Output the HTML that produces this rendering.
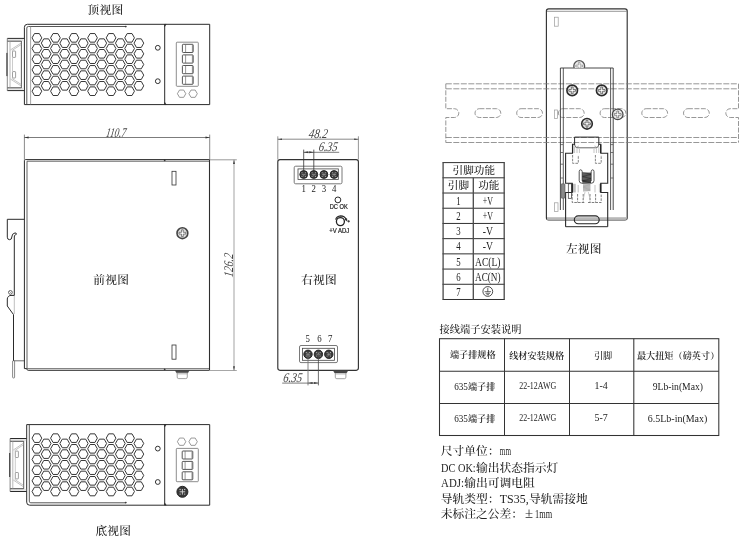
<!DOCTYPE html>
<html lang="zh-CN">
<head>
<meta charset="utf-8">
<title>尺寸图</title>
<style>
html,body{margin:0;padding:0;background:#fff;}
body{width:747px;height:540px;overflow:hidden;}
svg{display:block;will-change:transform;}
text.c{font-family:"Liberation Serif","Noto Serif CJK SC",serif;}
text.s{font-family:"Liberation Sans",sans-serif;}
</style>
</head>
<body>
<svg width="747" height="540" viewBox="0 0 747 540">
<rect x="0" y="0" width="747" height="540" fill="#fff"/>
<path d="M209.7 24.3 H27.4 Q24.4 24.3 24.4 27.3 V104.6 H209.7 Z" fill="none" stroke="#2a2a2a" stroke-width="1"/>
<path d="M125.8 26.5 H28.4 Q26.8 26.5 26.8 28.1 V104.6" fill="none" stroke="#444" stroke-width="0.9"/>
<line x1="30.6" y1="26.3" x2="30.6" y2="104.6" stroke="#808080" stroke-width="0.7"/>
<circle cx="125.8" cy="26.6" r="0.6" fill="#2a2a2a" stroke="#2a2a2a" stroke-width="0.5"/>
<line x1="164.7" y1="24.3" x2="164.7" y2="104.6" stroke="#2a2a2a" stroke-width="1"/>
<path d="M164.7 24.3 l1.6 0 l-1.6 2.4 Z" fill="#2a2a2a" stroke="#2a2a2a" stroke-width="0.3"/>
<path d="M164.7 104.6 l1.6 0 l-1.6 -2.4 Z" fill="#2a2a2a" stroke="#2a2a2a" stroke-width="0.3"/>
<path d="M32.05 37.85L34.48 33.55L39.32 33.55L41.75 37.85L39.32 42.15L34.48 42.15ZM32.05 48.52L34.48 44.22L39.32 44.22L41.75 48.52L39.32 52.82L34.48 52.82ZM32.05 59.19L34.48 54.89L39.32 54.89L41.75 59.19L39.32 63.49L34.48 63.49ZM32.05 69.86L34.48 65.56L39.32 65.56L41.75 69.86L39.32 74.16L34.48 74.16ZM32.05 80.53L34.48 76.23L39.32 76.23L41.75 80.53L39.32 84.83L34.48 84.83ZM32.05 91.2L34.48 86.9L39.32 86.9L41.75 91.2L39.32 95.5L34.48 95.5ZM41.32 43.15L43.75 38.85L48.59 38.85L51.02 43.15L48.59 47.45L43.75 47.45ZM41.32 53.82L43.75 49.52L48.59 49.52L51.02 53.82L48.59 58.12L43.75 58.12ZM41.32 64.49L43.75 60.19L48.59 60.19L51.02 64.49L48.59 68.79L43.75 68.79ZM41.32 75.16L43.75 70.86L48.59 70.86L51.02 75.16L48.59 79.46L43.75 79.46ZM41.32 85.83L43.75 81.53L48.59 81.53L51.02 85.83L48.59 90.13L43.75 90.13ZM50.59 37.85L53.02 33.55L57.86 33.55L60.29 37.85L57.86 42.15L53.02 42.15ZM50.59 48.52L53.02 44.22L57.86 44.22L60.29 48.52L57.86 52.82L53.02 52.82ZM50.59 59.19L53.02 54.89L57.86 54.89L60.29 59.19L57.86 63.49L53.02 63.49ZM50.59 69.86L53.02 65.56L57.86 65.56L60.29 69.86L57.86 74.16L53.02 74.16ZM50.59 80.53L53.02 76.23L57.86 76.23L60.29 80.53L57.86 84.83L53.02 84.83ZM50.59 91.2L53.02 86.9L57.86 86.9L60.29 91.2L57.86 95.5L53.02 95.5ZM59.86 43.15L62.28 38.85L67.13 38.85L69.56 43.15L67.13 47.45L62.28 47.45ZM59.86 53.82L62.28 49.52L67.13 49.52L69.56 53.82L67.13 58.12L62.28 58.12ZM59.86 64.49L62.28 60.19L67.13 60.19L69.56 64.49L67.13 68.79L62.28 68.79ZM59.86 75.16L62.28 70.86L67.13 70.86L69.56 75.16L67.13 79.46L62.28 79.46ZM59.86 85.83L62.28 81.53L67.13 81.53L69.56 85.83L67.13 90.13L62.28 90.13ZM69.13 37.85L71.55 33.55L76.4 33.55L78.83 37.85L76.4 42.15L71.55 42.15ZM69.13 48.52L71.55 44.22L76.4 44.22L78.83 48.52L76.4 52.82L71.55 52.82ZM69.13 59.19L71.55 54.89L76.4 54.89L78.83 59.19L76.4 63.49L71.55 63.49ZM69.13 69.86L71.55 65.56L76.4 65.56L78.83 69.86L76.4 74.16L71.55 74.16ZM69.13 80.53L71.55 76.23L76.4 76.23L78.83 80.53L76.4 84.83L71.55 84.83ZM69.13 91.2L71.55 86.9L76.4 86.9L78.83 91.2L76.4 95.5L71.55 95.5ZM78.4 43.15L80.83 38.85L85.67 38.85L88.1 43.15L85.67 47.45L80.83 47.45ZM78.4 53.82L80.83 49.52L85.67 49.52L88.1 53.82L85.67 58.12L80.83 58.12ZM78.4 64.49L80.83 60.19L85.67 60.19L88.1 64.49L85.67 68.79L80.83 68.79ZM78.4 75.16L80.83 70.86L85.67 70.86L88.1 75.16L85.67 79.46L80.83 79.46ZM78.4 85.83L80.83 81.53L85.67 81.53L88.1 85.83L85.67 90.13L80.83 90.13ZM87.67 37.85L90.09 33.55L94.94 33.55L97.37 37.85L94.94 42.15L90.09 42.15ZM87.67 48.52L90.09 44.22L94.94 44.22L97.37 48.52L94.94 52.82L90.09 52.82ZM87.67 59.19L90.09 54.89L94.94 54.89L97.37 59.19L94.94 63.49L90.09 63.49ZM87.67 69.86L90.09 65.56L94.94 65.56L97.37 69.86L94.94 74.16L90.09 74.16ZM87.67 80.53L90.09 76.23L94.94 76.23L97.37 80.53L94.94 84.83L90.09 84.83ZM87.67 91.2L90.09 86.9L94.94 86.9L97.37 91.2L94.94 95.5L90.09 95.5ZM96.94 43.15L99.36 38.85L104.21 38.85L106.64 43.15L104.21 47.45L99.36 47.45ZM96.94 53.82L99.36 49.52L104.21 49.52L106.64 53.82L104.21 58.12L99.36 58.12ZM96.94 64.49L99.36 60.19L104.21 60.19L106.64 64.49L104.21 68.79L99.36 68.79ZM96.94 75.16L99.36 70.86L104.21 70.86L106.64 75.16L104.21 79.46L99.36 79.46ZM96.94 85.83L99.36 81.53L104.21 81.53L106.64 85.83L104.21 90.13L99.36 90.13ZM106.21 37.85L108.64 33.55L113.48 33.55L115.91 37.85L113.48 42.15L108.64 42.15ZM106.21 48.52L108.64 44.22L113.48 44.22L115.91 48.52L113.48 52.82L108.64 52.82ZM106.21 59.19L108.64 54.89L113.48 54.89L115.91 59.19L113.48 63.49L108.64 63.49ZM106.21 69.86L108.64 65.56L113.48 65.56L115.91 69.86L113.48 74.16L108.64 74.16ZM106.21 80.53L108.64 76.23L113.48 76.23L115.91 80.53L113.48 84.83L108.64 84.83ZM106.21 91.2L108.64 86.9L113.48 86.9L115.91 91.2L113.48 95.5L108.64 95.5ZM115.48 43.15L117.9 38.85L122.75 38.85L125.18 43.15L122.75 47.45L117.9 47.45ZM115.48 53.82L117.9 49.52L122.75 49.52L125.18 53.82L122.75 58.12L117.9 58.12ZM115.48 64.49L117.9 60.19L122.75 60.19L125.18 64.49L122.75 68.79L117.9 68.79ZM115.48 75.16L117.9 70.86L122.75 70.86L125.18 75.16L122.75 79.46L117.9 79.46ZM115.48 85.83L117.9 81.53L122.75 81.53L125.18 85.83L122.75 90.13L117.9 90.13ZM124.75 37.85L127.17 33.55L132.03 33.55L134.45 37.85L132.03 42.15L127.17 42.15ZM124.75 48.52L127.17 44.22L132.03 44.22L134.45 48.52L132.03 52.82L127.17 52.82ZM124.75 59.19L127.17 54.89L132.03 54.89L134.45 59.19L132.03 63.49L127.17 63.49ZM124.75 69.86L127.17 65.56L132.03 65.56L134.45 69.86L132.03 74.16L127.17 74.16ZM124.75 80.53L127.17 76.23L132.03 76.23L134.45 80.53L132.03 84.83L127.17 84.83ZM124.75 91.2L127.17 86.9L132.03 86.9L134.45 91.2L132.03 95.5L127.17 95.5ZM134.02 43.15L136.44 38.85L141.3 38.85L143.72 43.15L141.3 47.45L136.44 47.45ZM134.02 53.82L136.44 49.52L141.3 49.52L143.72 53.82L141.3 58.12L136.44 58.12ZM134.02 64.49L136.44 60.19L141.3 60.19L143.72 64.49L141.3 68.79L136.44 68.79ZM134.02 75.16L136.44 70.86L141.3 70.86L143.72 75.16L141.3 79.46L136.44 79.46ZM134.02 85.83L136.44 81.53L141.3 81.53L143.72 85.83L141.3 90.13L136.44 90.13Z" fill="none" stroke="#383838" stroke-width="1" stroke-linejoin="round"/>
<circle cx="157.8" cy="47.8" r="2.4" fill="none" stroke="#333" stroke-width="1"/>
<circle cx="157.8" cy="81.2" r="2.4" fill="none" stroke="#333" stroke-width="1"/>
<rect x="176.3" y="42.2" width="22" height="44.1" fill="none" stroke="#707070" stroke-width="0.8" rx="0.8"/>
<rect x="182.4" y="44.3" width="10.8" height="8.2" fill="none" stroke="#444" stroke-width="0.9" rx="0.8"/>
<line x1="185.6" y1="44.3" x2="185.6" y2="52.5" stroke="#6a6a6a" stroke-width="0.7"/>
<line x1="192.4" y1="44.7" x2="192.4" y2="52.1" stroke="#777" stroke-width="0.8"/>
<rect x="182.4" y="54.9" width="10.8" height="8.2" fill="none" stroke="#444" stroke-width="0.9" rx="0.8"/>
<line x1="185.6" y1="54.9" x2="185.6" y2="63.1" stroke="#6a6a6a" stroke-width="0.7"/>
<line x1="192.4" y1="55.3" x2="192.4" y2="62.7" stroke="#777" stroke-width="0.8"/>
<rect x="182.4" y="65.5" width="10.8" height="8.2" fill="none" stroke="#444" stroke-width="0.9" rx="0.8"/>
<line x1="185.6" y1="65.5" x2="185.6" y2="73.7" stroke="#6a6a6a" stroke-width="0.7"/>
<line x1="192.4" y1="65.9" x2="192.4" y2="73.3" stroke="#777" stroke-width="0.8"/>
<rect x="182.4" y="76.1" width="10.8" height="8.2" fill="none" stroke="#444" stroke-width="0.9" rx="0.8"/>
<line x1="185.6" y1="76.1" x2="185.6" y2="84.3" stroke="#6a6a6a" stroke-width="0.7"/>
<line x1="192.4" y1="76.5" x2="192.4" y2="83.9" stroke="#777" stroke-width="0.8"/>
<path d="M177.4 93.7L179.5 90.06L183.7 90.06L185.8 93.7L183.7 97.34L179.5 97.34ZM188.9 93.7L191 90.06L195.2 90.06L197.3 93.7L195.2 97.34L191 97.34Z" fill="none" stroke="#808080" stroke-width="0.8" stroke-linejoin="round"/>
<rect x="7.3" y="38.4" width="16.5" height="2.7" fill="#e6e6e6"/>
<rect x="7.3" y="87.9" width="16.5" height="2.7" fill="#e6e6e6"/>
<line x1="7.3" y1="38.4" x2="24.4" y2="38.4" stroke="#2a2a2a" stroke-width="1"/>
<line x1="7.3" y1="90.6" x2="24.4" y2="90.6" stroke="#2a2a2a" stroke-width="1"/>
<line x1="7.3" y1="41.2" x2="21.4" y2="41.2" stroke="#3c3c3c" stroke-width="0.9"/>
<line x1="7.3" y1="87.8" x2="21.4" y2="87.8" stroke="#3c3c3c" stroke-width="0.9"/>
<line x1="7.3" y1="38.4" x2="7.3" y2="90.6" stroke="#6a6a6a" stroke-width="0.8"/>
<line x1="10" y1="41.1" x2="10" y2="87.9" stroke="#999" stroke-width="0.7"/>
<line x1="21.4" y1="41.1" x2="21.4" y2="87.9" stroke="#4a4a4a" stroke-width="0.9"/>
<line x1="6.9" y1="52.9" x2="6.9" y2="76.1" stroke="#333" stroke-width="1"/>
<line x1="21.4" y1="42.9" x2="10.5" y2="49.9" stroke="#9a9a9a" stroke-width="0.6"/>
<line x1="21.4" y1="44.4" x2="11.8" y2="50.6" stroke="#9a9a9a" stroke-width="0.6"/>
<line x1="21.4" y1="86.1" x2="10.5" y2="79.1" stroke="#9a9a9a" stroke-width="0.6"/>
<line x1="21.4" y1="84.6" x2="11.8" y2="78.4" stroke="#9a9a9a" stroke-width="0.6"/>
<rect x="12.5" y="51" width="3.1" height="6.4" fill="none" stroke="#777" stroke-width="0.7" rx="0.6"/>
<rect x="12.5" y="71.6" width="3.1" height="6.4" fill="none" stroke="#777" stroke-width="0.7" rx="0.6"/>
<line x1="12.5" y1="57.4" x2="12.5" y2="71.6" stroke="#aaa" stroke-width="0.6"/>
<text class="c" x="105.5" y="13.9" font-size="11.7" fill="#222" text-anchor="middle" font-weight="500" letter-spacing="0.25">顶视图</text>
<path d="M209.7 424.6 H26.7 V502.2 Q26.7 505.2 29.7 505.2 H209.7 Z" fill="none" stroke="#2a2a2a" stroke-width="1"/>
<path d="M125.8 502.8 H30.8 Q29.3 502.8 29.3 501.2 V424.6" fill="none" stroke="#444" stroke-width="0.9"/>
<circle cx="125.8" cy="502.6" r="0.6" fill="#2a2a2a" stroke="#2a2a2a" stroke-width="0.5"/>
<line x1="164.7" y1="424.6" x2="164.7" y2="505.2" stroke="#2a2a2a" stroke-width="1"/>
<path d="M164.7 424.6 l1.6 0 l-1.6 2.4 Z" fill="#2a2a2a" stroke="#2a2a2a" stroke-width="0.3"/>
<path d="M164.7 505.2 l1.6 0 l-1.6 -2.4 Z" fill="#2a2a2a" stroke="#2a2a2a" stroke-width="0.3"/>
<path d="M32.05 438.15L34.48 433.85L39.32 433.85L41.75 438.15L39.32 442.45L34.48 442.45ZM32.05 448.82L34.48 444.52L39.32 444.52L41.75 448.82L39.32 453.12L34.48 453.12ZM32.05 459.49L34.48 455.19L39.32 455.19L41.75 459.49L39.32 463.79L34.48 463.79ZM32.05 470.16L34.48 465.86L39.32 465.86L41.75 470.16L39.32 474.46L34.48 474.46ZM32.05 480.83L34.48 476.53L39.32 476.53L41.75 480.83L39.32 485.13L34.48 485.13ZM32.05 491.5L34.48 487.2L39.32 487.2L41.75 491.5L39.32 495.8L34.48 495.8ZM41.32 443.45L43.75 439.15L48.59 439.15L51.02 443.45L48.59 447.75L43.75 447.75ZM41.32 454.12L43.75 449.82L48.59 449.82L51.02 454.12L48.59 458.42L43.75 458.42ZM41.32 464.79L43.75 460.49L48.59 460.49L51.02 464.79L48.59 469.09L43.75 469.09ZM41.32 475.46L43.75 471.16L48.59 471.16L51.02 475.46L48.59 479.76L43.75 479.76ZM41.32 486.13L43.75 481.83L48.59 481.83L51.02 486.13L48.59 490.43L43.75 490.43ZM50.59 438.15L53.02 433.85L57.86 433.85L60.29 438.15L57.86 442.45L53.02 442.45ZM50.59 448.82L53.02 444.52L57.86 444.52L60.29 448.82L57.86 453.12L53.02 453.12ZM50.59 459.49L53.02 455.19L57.86 455.19L60.29 459.49L57.86 463.79L53.02 463.79ZM50.59 470.16L53.02 465.86L57.86 465.86L60.29 470.16L57.86 474.46L53.02 474.46ZM50.59 480.83L53.02 476.53L57.86 476.53L60.29 480.83L57.86 485.13L53.02 485.13ZM50.59 491.5L53.02 487.2L57.86 487.2L60.29 491.5L57.86 495.8L53.02 495.8ZM59.86 443.45L62.28 439.15L67.13 439.15L69.56 443.45L67.13 447.75L62.28 447.75ZM59.86 454.12L62.28 449.82L67.13 449.82L69.56 454.12L67.13 458.42L62.28 458.42ZM59.86 464.79L62.28 460.49L67.13 460.49L69.56 464.79L67.13 469.09L62.28 469.09ZM59.86 475.46L62.28 471.16L67.13 471.16L69.56 475.46L67.13 479.76L62.28 479.76ZM59.86 486.13L62.28 481.83L67.13 481.83L69.56 486.13L67.13 490.43L62.28 490.43ZM69.13 438.15L71.55 433.85L76.4 433.85L78.83 438.15L76.4 442.45L71.55 442.45ZM69.13 448.82L71.55 444.52L76.4 444.52L78.83 448.82L76.4 453.12L71.55 453.12ZM69.13 459.49L71.55 455.19L76.4 455.19L78.83 459.49L76.4 463.79L71.55 463.79ZM69.13 470.16L71.55 465.86L76.4 465.86L78.83 470.16L76.4 474.46L71.55 474.46ZM69.13 480.83L71.55 476.53L76.4 476.53L78.83 480.83L76.4 485.13L71.55 485.13ZM69.13 491.5L71.55 487.2L76.4 487.2L78.83 491.5L76.4 495.8L71.55 495.8ZM78.4 443.45L80.83 439.15L85.67 439.15L88.1 443.45L85.67 447.75L80.83 447.75ZM78.4 454.12L80.83 449.82L85.67 449.82L88.1 454.12L85.67 458.42L80.83 458.42ZM78.4 464.79L80.83 460.49L85.67 460.49L88.1 464.79L85.67 469.09L80.83 469.09ZM78.4 475.46L80.83 471.16L85.67 471.16L88.1 475.46L85.67 479.76L80.83 479.76ZM78.4 486.13L80.83 481.83L85.67 481.83L88.1 486.13L85.67 490.43L80.83 490.43ZM87.67 438.15L90.09 433.85L94.94 433.85L97.37 438.15L94.94 442.45L90.09 442.45ZM87.67 448.82L90.09 444.52L94.94 444.52L97.37 448.82L94.94 453.12L90.09 453.12ZM87.67 459.49L90.09 455.19L94.94 455.19L97.37 459.49L94.94 463.79L90.09 463.79ZM87.67 470.16L90.09 465.86L94.94 465.86L97.37 470.16L94.94 474.46L90.09 474.46ZM87.67 480.83L90.09 476.53L94.94 476.53L97.37 480.83L94.94 485.13L90.09 485.13ZM87.67 491.5L90.09 487.2L94.94 487.2L97.37 491.5L94.94 495.8L90.09 495.8ZM96.94 443.45L99.36 439.15L104.21 439.15L106.64 443.45L104.21 447.75L99.36 447.75ZM96.94 454.12L99.36 449.82L104.21 449.82L106.64 454.12L104.21 458.42L99.36 458.42ZM96.94 464.79L99.36 460.49L104.21 460.49L106.64 464.79L104.21 469.09L99.36 469.09ZM96.94 475.46L99.36 471.16L104.21 471.16L106.64 475.46L104.21 479.76L99.36 479.76ZM96.94 486.13L99.36 481.83L104.21 481.83L106.64 486.13L104.21 490.43L99.36 490.43ZM106.21 438.15L108.64 433.85L113.48 433.85L115.91 438.15L113.48 442.45L108.64 442.45ZM106.21 448.82L108.64 444.52L113.48 444.52L115.91 448.82L113.48 453.12L108.64 453.12ZM106.21 459.49L108.64 455.19L113.48 455.19L115.91 459.49L113.48 463.79L108.64 463.79ZM106.21 470.16L108.64 465.86L113.48 465.86L115.91 470.16L113.48 474.46L108.64 474.46ZM106.21 480.83L108.64 476.53L113.48 476.53L115.91 480.83L113.48 485.13L108.64 485.13ZM106.21 491.5L108.64 487.2L113.48 487.2L115.91 491.5L113.48 495.8L108.64 495.8ZM115.48 443.45L117.9 439.15L122.75 439.15L125.18 443.45L122.75 447.75L117.9 447.75ZM115.48 454.12L117.9 449.82L122.75 449.82L125.18 454.12L122.75 458.42L117.9 458.42ZM115.48 464.79L117.9 460.49L122.75 460.49L125.18 464.79L122.75 469.09L117.9 469.09ZM115.48 475.46L117.9 471.16L122.75 471.16L125.18 475.46L122.75 479.76L117.9 479.76ZM115.48 486.13L117.9 481.83L122.75 481.83L125.18 486.13L122.75 490.43L117.9 490.43ZM124.75 438.15L127.17 433.85L132.03 433.85L134.45 438.15L132.03 442.45L127.17 442.45ZM124.75 448.82L127.17 444.52L132.03 444.52L134.45 448.82L132.03 453.12L127.17 453.12ZM124.75 459.49L127.17 455.19L132.03 455.19L134.45 459.49L132.03 463.79L127.17 463.79ZM124.75 470.16L127.17 465.86L132.03 465.86L134.45 470.16L132.03 474.46L127.17 474.46ZM124.75 480.83L127.17 476.53L132.03 476.53L134.45 480.83L132.03 485.13L127.17 485.13ZM124.75 491.5L127.17 487.2L132.03 487.2L134.45 491.5L132.03 495.8L127.17 495.8ZM134.02 443.45L136.44 439.15L141.3 439.15L143.72 443.45L141.3 447.75L136.44 447.75ZM134.02 454.12L136.44 449.82L141.3 449.82L143.72 454.12L141.3 458.42L136.44 458.42ZM134.02 464.79L136.44 460.49L141.3 460.49L143.72 464.79L141.3 469.09L136.44 469.09ZM134.02 475.46L136.44 471.16L141.3 471.16L143.72 475.46L141.3 479.76L136.44 479.76ZM134.02 486.13L136.44 481.83L141.3 481.83L143.72 486.13L141.3 490.43L136.44 490.43Z" fill="none" stroke="#383838" stroke-width="1" stroke-linejoin="round"/>
<circle cx="157.8" cy="448.6" r="2.4" fill="none" stroke="#333" stroke-width="1"/>
<circle cx="157.8" cy="482" r="2.4" fill="none" stroke="#333" stroke-width="1"/>
<path d="M177.4 441.7L179.5 438.06L183.7 438.06L185.8 441.7L183.7 445.34L179.5 445.34ZM188.9 441.7L191 438.06L195.2 438.06L197.3 441.7L195.2 445.34L191 445.34Z" fill="none" stroke="#808080" stroke-width="0.8" stroke-linejoin="round"/>
<rect x="176.3" y="448.4" width="22" height="33.3" fill="none" stroke="#707070" stroke-width="0.8" rx="0.8"/>
<rect x="182.2" y="451" width="10.6" height="8" fill="none" stroke="#444" stroke-width="0.9" rx="0.8"/>
<line x1="185.1" y1="451" x2="185.1" y2="459" stroke="#6a6a6a" stroke-width="0.7"/>
<line x1="192" y1="451.4" x2="192" y2="458.6" stroke="#777" stroke-width="0.8"/>
<rect x="182.2" y="461.4" width="10.6" height="8" fill="none" stroke="#444" stroke-width="0.9" rx="0.8"/>
<line x1="185.1" y1="461.4" x2="185.1" y2="469.4" stroke="#6a6a6a" stroke-width="0.7"/>
<line x1="192" y1="461.8" x2="192" y2="469" stroke="#777" stroke-width="0.8"/>
<rect x="182.2" y="471.8" width="10.6" height="8" fill="none" stroke="#444" stroke-width="0.9" rx="0.8"/>
<line x1="185.1" y1="471.8" x2="185.1" y2="479.8" stroke="#6a6a6a" stroke-width="0.7"/>
<line x1="192" y1="472.2" x2="192" y2="479.4" stroke="#777" stroke-width="0.8"/>
<circle cx="182.4" cy="491.8" r="5.5" fill="#383838" stroke="#262626" stroke-width="1"/>
<path d="M179.6 491.8 H185.2 M182.4 489 V494.6" fill="none" stroke="#d8d8d8" stroke-width="0.9"/>
<circle cx="180.1" cy="489.5" r="0.7" fill="#c8c8c8" stroke="none" stroke-width="0"/>
<circle cx="184.7" cy="489.5" r="0.7" fill="#c8c8c8" stroke="none" stroke-width="0"/>
<circle cx="180.1" cy="494.1" r="0.7" fill="#c8c8c8" stroke="none" stroke-width="0"/>
<circle cx="184.7" cy="494.1" r="0.7" fill="#c8c8c8" stroke="none" stroke-width="0"/>
<rect x="10.1" y="438.5" width="16" height="2.7" fill="#e6e6e6"/>
<rect x="10.1" y="488.8" width="16" height="2.7" fill="#e6e6e6"/>
<line x1="10.1" y1="438.5" x2="26.7" y2="438.5" stroke="#2a2a2a" stroke-width="1"/>
<line x1="10.1" y1="491.5" x2="26.7" y2="491.5" stroke="#2a2a2a" stroke-width="1"/>
<line x1="10.1" y1="441.3" x2="23.7" y2="441.3" stroke="#3c3c3c" stroke-width="0.9"/>
<line x1="10.1" y1="488.7" x2="23.7" y2="488.7" stroke="#3c3c3c" stroke-width="0.9"/>
<line x1="10.1" y1="438.5" x2="10.1" y2="491.5" stroke="#6a6a6a" stroke-width="0.8"/>
<line x1="12.8" y1="441.2" x2="12.8" y2="488.8" stroke="#999" stroke-width="0.7"/>
<line x1="23.7" y1="441.2" x2="23.7" y2="488.8" stroke="#4a4a4a" stroke-width="0.9"/>
<line x1="9.7" y1="453" x2="9.7" y2="477" stroke="#333" stroke-width="1"/>
<line x1="23.7" y1="443" x2="13.3" y2="450" stroke="#9a9a9a" stroke-width="0.6"/>
<line x1="23.7" y1="444.5" x2="14.6" y2="450.7" stroke="#9a9a9a" stroke-width="0.6"/>
<line x1="23.7" y1="487" x2="13.3" y2="480" stroke="#9a9a9a" stroke-width="0.6"/>
<line x1="23.7" y1="485.5" x2="14.6" y2="479.3" stroke="#9a9a9a" stroke-width="0.6"/>
<rect x="15.3" y="451.1" width="3.1" height="6.4" fill="none" stroke="#777" stroke-width="0.7" rx="0.6"/>
<rect x="15.3" y="472.5" width="3.1" height="6.4" fill="none" stroke="#777" stroke-width="0.7" rx="0.6"/>
<line x1="15.3" y1="457.5" x2="15.3" y2="472.5" stroke="#aaa" stroke-width="0.6"/>
<text class="c" x="113.3" y="534.5" font-size="11.7" fill="#222" text-anchor="middle" font-weight="500" letter-spacing="0.25">底视图</text>
<path d="M209.5 159.6 H25.4 Q24.4 159.6 24.4 160.6 V368.6 H27" fill="none" stroke="#2a2a2a" stroke-width="1"/>
<path d="M209.5 161.2 H27 V369.6" fill="none" stroke="#5a5a5a" stroke-width="0.95"/>
<line x1="27" y1="368.6" x2="209.5" y2="368.6" stroke="#666" stroke-width="0.9"/>
<path d="M27 369.4 Q27.2 370.3 28.2 370.3 H209.5" fill="none" stroke="#2a2a2a" stroke-width="1"/>
<line x1="209.5" y1="159.6" x2="209.5" y2="370.2" stroke="#2e2e2e" stroke-width="1.1"/>
<circle cx="164.7" cy="160.4" r="0.6" fill="#2a2a2a" stroke="#2a2a2a" stroke-width="0.4"/>
<circle cx="164.7" cy="369.4" r="0.6" fill="#2a2a2a" stroke="#2a2a2a" stroke-width="0.4"/>
<rect x="172" y="171.3" width="4" height="13.7" fill="none" stroke="#333" stroke-width="0.8"/>
<rect x="172" y="345" width="4" height="14.2" fill="none" stroke="#333" stroke-width="0.8"/>
<circle cx="182.4" cy="233.2" r="5.4" fill="#ddd" stroke="#444" stroke-width="1.6"/>
<path d="M181.55 229.8 H183.25 V232.35 H185.8 V234.05 H183.25 V236.6 H181.55 V234.05 H179 V232.35 H181.55 Z" fill="#fff" stroke="#555" stroke-width="0.7" stroke-linejoin="round"/>
<path d="M175.3 370.5 H189.2 L187.9 372.8 H176.6 Z" fill="#4a4a4a" stroke="#3a3a3a" stroke-width="0.5"/>
<rect x="177.3" y="372.9" width="9.9" height="1.6" fill="#c8c8c8"/>
<path d="M177.2 372.8 V377.1 Q177.2 378.6 178.7 378.6 H185.8 Q187.3 378.6 187.3 377.1 V372.8" fill="none" stroke="#8a8a8a" stroke-width="0.8"/>
<path d="M24.4 219.3 H7.3 V237.2 Q7.3 239.7 9.6 239.7 Q11.8 239.7 11.8 237 Q11.8 233.6 15 232.9 Q16.6 232.9 16.4 234.3 Q16 235 15.2 234.8 Q14.3 235.2 14.3 237 V295.4 H12" fill="none" stroke="#2a2a2a" stroke-width="1" stroke-linejoin="round"/>
<path d="M12.4 295.4 Q9.4 295 8.3 296.6 Q7.3 297.6 7.3 299 V306 L13.5 314.6 V360.8" fill="none" stroke="#2a2a2a" stroke-width="1" stroke-linejoin="round"/>
<circle cx="10.4" cy="292.4" r="1.9" fill="none" stroke="#2a2a2a" stroke-width="0.7"/>
<path d="M9.4 291.4 L11.6 293.6" fill="none" stroke="#6a6a6a" stroke-width="0.6"/>
<line x1="14.3" y1="295.4" x2="14.3" y2="314" stroke="#2a2a2a" stroke-width="0.3"/>
<line x1="13.5" y1="360.8" x2="24.4" y2="360.8" stroke="#2a2a2a" stroke-width="0.7"/>
<path d="M12.6 360.8 V377.2 Q12.6 378 13.6 378 Q14.6 378 14.6 377.2 V360.8" fill="none" stroke="#6a6a6a" stroke-width="0.8"/>
<text class="c" x="111.2" y="284.2" font-size="11.7" fill="#222" text-anchor="middle" font-weight="500" letter-spacing="0.25">前视图</text>
<line x1="24.4" y1="134.6" x2="24.4" y2="159.6" stroke="#3a3a3a" stroke-width="0.6"/>
<line x1="209.7" y1="134.6" x2="209.7" y2="159.6" stroke="#3a3a3a" stroke-width="0.6"/>
<line x1="24.4" y1="137.5" x2="209.7" y2="137.5" stroke="#444" stroke-width="0.7"/>
<path d="M24.4 137.5L28.6 136.6L28.6 138.4Z" fill="#333"/>
<path d="M209.7 137.5L205.5 138.4L205.5 136.6Z" fill="#333"/>
<text class="c" transform="translate(115.6 136.5) rotate(0) skewX(-9)" x="0" y="0" font-size="13.3" font-style="italic" text-anchor="middle" textLength="20" lengthAdjust="spacingAndGlyphs" fill="#444">110.7</text>
<line x1="209.7" y1="159.8" x2="236.8" y2="159.8" stroke="#808080" stroke-width="0.8"/>
<line x1="209.7" y1="370.5" x2="236.8" y2="370.5" stroke="#909090" stroke-width="0.8"/>
<line x1="234" y1="159.7" x2="234" y2="370.5" stroke="#999" stroke-width="0.9"/>
<path d="M234 159.8L234.9 164L233.1 164Z" fill="#333"/>
<path d="M234 370.5L233.1 366.3L234.9 366.3Z" fill="#333"/>
<text class="c" transform="translate(233.1 265.6) rotate(-90) skewX(-9)" x="0" y="0" font-size="13.3" font-style="italic" text-anchor="middle" textLength="23.6" lengthAdjust="spacingAndGlyphs" fill="#444">126.2</text>
<rect x="277.8" y="159.6" width="80.6" height="210.7" fill="none" stroke="#333" stroke-width="1.15" rx="2.2"/>
<rect x="294.2" y="166.2" width="47.8" height="17.6" fill="none" stroke="#6a6a6a" stroke-width="0.9" rx="1.5"/>
<rect x="298" y="168.9" width="40.3" height="10.7" fill="none" stroke="#444" stroke-width="0.8"/>
<circle cx="303.7" cy="174.5" r="3.9" fill="#3c3c3c" stroke="#262626" stroke-width="1"/>
<path d="M301.8 174.5 H305.6 M303.7 172.6 V176.4" fill="none" stroke="#a8a8a8" stroke-width="0.6"/>
<circle cx="302" cy="172.8" r="0.55" fill="#c0c0c0" stroke="none" stroke-width="0"/>
<circle cx="305.4" cy="172.8" r="0.55" fill="#c0c0c0" stroke="none" stroke-width="0"/>
<circle cx="302" cy="176.2" r="0.55" fill="#c0c0c0" stroke="none" stroke-width="0"/>
<circle cx="305.4" cy="176.2" r="0.55" fill="#c0c0c0" stroke="none" stroke-width="0"/>
<circle cx="313.8" cy="174.5" r="3.9" fill="#3c3c3c" stroke="#262626" stroke-width="1"/>
<path d="M311.9 174.5 H315.7 M313.8 172.6 V176.4" fill="none" stroke="#a8a8a8" stroke-width="0.6"/>
<circle cx="312.1" cy="172.8" r="0.55" fill="#c0c0c0" stroke="none" stroke-width="0"/>
<circle cx="315.5" cy="172.8" r="0.55" fill="#c0c0c0" stroke="none" stroke-width="0"/>
<circle cx="312.1" cy="176.2" r="0.55" fill="#c0c0c0" stroke="none" stroke-width="0"/>
<circle cx="315.5" cy="176.2" r="0.55" fill="#c0c0c0" stroke="none" stroke-width="0"/>
<circle cx="323.9" cy="174.5" r="3.9" fill="#3c3c3c" stroke="#262626" stroke-width="1"/>
<path d="M322 174.5 H325.8 M323.9 172.6 V176.4" fill="none" stroke="#a8a8a8" stroke-width="0.6"/>
<circle cx="322.2" cy="172.8" r="0.55" fill="#c0c0c0" stroke="none" stroke-width="0"/>
<circle cx="325.6" cy="172.8" r="0.55" fill="#c0c0c0" stroke="none" stroke-width="0"/>
<circle cx="322.2" cy="176.2" r="0.55" fill="#c0c0c0" stroke="none" stroke-width="0"/>
<circle cx="325.6" cy="176.2" r="0.55" fill="#c0c0c0" stroke="none" stroke-width="0"/>
<circle cx="334.1" cy="174.5" r="3.9" fill="#3c3c3c" stroke="#262626" stroke-width="1"/>
<path d="M332.2 174.5 H336 M334.1 172.6 V176.4" fill="none" stroke="#a8a8a8" stroke-width="0.6"/>
<circle cx="332.4" cy="172.8" r="0.55" fill="#c0c0c0" stroke="none" stroke-width="0"/>
<circle cx="335.8" cy="172.8" r="0.55" fill="#c0c0c0" stroke="none" stroke-width="0"/>
<circle cx="332.4" cy="176.2" r="0.55" fill="#c0c0c0" stroke="none" stroke-width="0"/>
<circle cx="335.8" cy="176.2" r="0.55" fill="#c0c0c0" stroke="none" stroke-width="0"/>
<text class="c" x="303.7" y="192" font-size="10.4" fill="#222" text-anchor="middle" textLength="4.4" lengthAdjust="spacingAndGlyphs">1</text>
<text class="c" x="313.8" y="192" font-size="10.4" fill="#222" text-anchor="middle" textLength="4.4" lengthAdjust="spacingAndGlyphs">2</text>
<text class="c" x="323.9" y="192" font-size="10.4" fill="#222" text-anchor="middle" textLength="4.4" lengthAdjust="spacingAndGlyphs">3</text>
<text class="c" x="334.1" y="192" font-size="10.4" fill="#222" text-anchor="middle" textLength="4.4" lengthAdjust="spacingAndGlyphs">4</text>
<circle cx="337.9" cy="199.9" r="2.9" fill="none" stroke="#2a2a2a" stroke-width="1"/>
<text class="s" x="338.7" y="208.9" font-size="6.4" text-anchor="middle" textLength="18" lengthAdjust="spacingAndGlyphs" fill="#222" stroke="#222" stroke-width="0.2">DC OK</text>
<circle cx="340.4" cy="221.6" r="4" fill="none" stroke="#222" stroke-width="1.3"/>
<path d="M335.6 219.6 Q336.6 216.2 340.6 215.9 Q344.6 216 346.2 219.4" fill="none" stroke="#222" stroke-width="1.1"/>
<path d="M347.2 221.2 l-2.4 -1.6 l1.9 -1.2 Z" fill="#222" stroke="#222" stroke-width="0.4"/>
<path d="M347.5 221.3 h2.4 M348.7 220.1 v2.4" fill="none" stroke="#222" stroke-width="0.8"/>
<text class="s" x="339.2" y="232.5" font-size="6.4" text-anchor="middle" textLength="20" lengthAdjust="spacingAndGlyphs" fill="#222" stroke="#222" stroke-width="0.2">+V ADJ</text>
<text class="c" x="319" y="284.1" font-size="11.7" fill="#222" text-anchor="middle" font-weight="500" letter-spacing="0.25">右视图</text>
<text class="c" x="307.8" y="342.2" font-size="10.4" fill="#222" text-anchor="middle" textLength="4.4" lengthAdjust="spacingAndGlyphs">5</text>
<text class="c" x="319.4" y="342.2" font-size="10.4" fill="#222" text-anchor="middle" textLength="4.4" lengthAdjust="spacingAndGlyphs">6</text>
<text class="c" x="330.3" y="342.2" font-size="10.4" fill="#222" text-anchor="middle" textLength="4.4" lengthAdjust="spacingAndGlyphs">7</text>
<rect x="299.5" y="345.5" width="38" height="17.1" fill="none" stroke="#6a6a6a" stroke-width="0.9" rx="1.5"/>
<rect x="302.5" y="348.3" width="32" height="12" fill="none" stroke="#444" stroke-width="0.8"/>
<circle cx="308" cy="354.3" r="4.2" fill="#3c3c3c" stroke="#262626" stroke-width="1"/>
<path d="M306.1 354.3 H309.9 M308 352.4 V356.2" fill="none" stroke="#a8a8a8" stroke-width="0.6"/>
<circle cx="306.3" cy="352.6" r="0.55" fill="#c0c0c0" stroke="none" stroke-width="0"/>
<circle cx="309.7" cy="352.6" r="0.55" fill="#c0c0c0" stroke="none" stroke-width="0"/>
<circle cx="306.3" cy="356" r="0.55" fill="#c0c0c0" stroke="none" stroke-width="0"/>
<circle cx="309.7" cy="356" r="0.55" fill="#c0c0c0" stroke="none" stroke-width="0"/>
<circle cx="318.4" cy="354.3" r="4.2" fill="#3c3c3c" stroke="#262626" stroke-width="1"/>
<path d="M316.5 354.3 H320.3 M318.4 352.4 V356.2" fill="none" stroke="#a8a8a8" stroke-width="0.6"/>
<circle cx="316.7" cy="352.6" r="0.55" fill="#c0c0c0" stroke="none" stroke-width="0"/>
<circle cx="320.1" cy="352.6" r="0.55" fill="#c0c0c0" stroke="none" stroke-width="0"/>
<circle cx="316.7" cy="356" r="0.55" fill="#c0c0c0" stroke="none" stroke-width="0"/>
<circle cx="320.1" cy="356" r="0.55" fill="#c0c0c0" stroke="none" stroke-width="0"/>
<circle cx="328.8" cy="354.3" r="4.2" fill="#3c3c3c" stroke="#262626" stroke-width="1"/>
<path d="M326.9 354.3 H330.7 M328.8 352.4 V356.2" fill="none" stroke="#a8a8a8" stroke-width="0.6"/>
<circle cx="327.1" cy="352.6" r="0.55" fill="#c0c0c0" stroke="none" stroke-width="0"/>
<circle cx="330.5" cy="352.6" r="0.55" fill="#c0c0c0" stroke="none" stroke-width="0"/>
<circle cx="327.1" cy="356" r="0.55" fill="#c0c0c0" stroke="none" stroke-width="0"/>
<circle cx="330.5" cy="356" r="0.55" fill="#c0c0c0" stroke="none" stroke-width="0"/>
<path d="M333.4 370.6 H347.8 L346.5 372.9 H334.7 Z" fill="#4a4a4a" stroke="#3a3a3a" stroke-width="0.5"/>
<rect x="335.4" y="373" width="10.4" height="1.6" fill="#c8c8c8"/>
<path d="M335.3 372.9 V377.2 Q335.3 378.7 336.8 378.7 H344.4 Q345.9 378.7 345.9 377.2 V372.9" fill="none" stroke="#8a8a8a" stroke-width="0.8"/>
<line x1="277.8" y1="136.3" x2="277.8" y2="159.6" stroke="#8a8a8a" stroke-width="0.9"/>
<line x1="358.4" y1="136.3" x2="358.4" y2="159.6" stroke="#8a8a8a" stroke-width="0.9"/>
<line x1="277.8" y1="139.2" x2="358.4" y2="139.2" stroke="#3a3a3a" stroke-width="0.6"/>
<path d="M277.8 139.2L282 138.4L282 140Z" fill="#3a3a3a"/>
<path d="M358.4 139.2L354.2 140L354.2 138.4Z" fill="#3a3a3a"/>
<text class="c" transform="translate(317.7 138.1) rotate(0) skewX(-9)" x="0" y="0" font-size="13.3" font-style="italic" text-anchor="middle" textLength="19" lengthAdjust="spacingAndGlyphs" fill="#444">48.2</text>
<line x1="303.7" y1="149.6" x2="303.7" y2="174.4" stroke="#333" stroke-width="0.8"/>
<line x1="313.8" y1="149.6" x2="313.8" y2="174.4" stroke="#333" stroke-width="0.8"/>
<line x1="303.7" y1="152.3" x2="339.2" y2="152.3" stroke="#444" stroke-width="0.7"/>
<path d="M303.7 152.3L308.3 151.3L308.3 153.3Z" fill="#3a3a3a"/>
<path d="M313.8 152.3L309.2 153.3L309.2 151.3Z" fill="#3a3a3a"/>
<text class="c" transform="translate(327.7 151.4) rotate(0) skewX(-9)" x="0" y="0" font-size="13.3" font-style="italic" text-anchor="middle" textLength="19" lengthAdjust="spacingAndGlyphs" fill="#444">6.35</text>
<line x1="308" y1="354.3" x2="308" y2="385.4" stroke="#777" stroke-width="0.9"/>
<line x1="318.4" y1="354.3" x2="318.4" y2="385.4" stroke="#4a4a4a" stroke-width="0.8"/>
<line x1="282.2" y1="383.1" x2="318.4" y2="383.1" stroke="#444" stroke-width="0.7"/>
<path d="M308 383.1L312.6 382.1L312.6 384.1Z" fill="#3a3a3a"/>
<path d="M318.4 383.1L313.8 384.1L313.8 382.1Z" fill="#3a3a3a"/>
<text class="c" transform="translate(292.2 381.8) rotate(0) skewX(-9)" x="0" y="0" font-size="13.3" font-style="italic" text-anchor="middle" textLength="19" lengthAdjust="spacingAndGlyphs" fill="#444">6.35</text>
<rect x="546.4" y="8.8" width="80.8" height="211.2" fill="none" stroke="#333" stroke-width="1.15" rx="2.2"/>
<line x1="546.9" y1="11.3" x2="626.7" y2="11.3" stroke="#6a6a6a" stroke-width="0.7"/>
<rect x="547" y="217.2" width="79.6" height="2.6" fill="#b8b8b8"/>
<rect x="554.5" y="17.2" width="3.7" height="9" fill="none" stroke="#9a9a9a" stroke-width="0.7"/>
<rect x="554.5" y="110" width="3.1" height="8.6" fill="none" stroke="#9a9a9a" stroke-width="0.7"/>
<rect x="554.5" y="202.8" width="3.5" height="8.8" fill="none" stroke="#9a9a9a" stroke-width="0.7"/>
<line x1="445.8" y1="83.8" x2="738.5" y2="83.8" stroke="#7c7c7c" stroke-width="0.8" stroke-dasharray="6 1.5"/>
<line x1="445.8" y1="88.8" x2="738.5" y2="88.8" stroke="#7c7c7c" stroke-width="0.8" stroke-dasharray="6 1.5"/>
<line x1="445.8" y1="137.5" x2="738.5" y2="137.5" stroke="#7c7c7c" stroke-width="0.8" stroke-dasharray="6 1.5"/>
<line x1="445.8" y1="142.5" x2="738.5" y2="142.5" stroke="#7c7c7c" stroke-width="0.8" stroke-dasharray="6 1.5"/>
<path d="M445.8 83.8 V108.7 H454.4 A4.4 4.4 0 0 1 454.4 117.5 H445.8 V142.5" fill="none" stroke="#7c7c7c" stroke-width="0.8" stroke-dasharray="5 1.5"/>
<path d="M738.5 83.8 V108.7 H730.2 A4.4 4.4 0 0 0 730.2 117.5 H738.5 V142.5" fill="none" stroke="#7c7c7c" stroke-width="0.8" stroke-dasharray="5 1.5"/>
<rect x="475" y="108.7" width="25.8" height="8.8" fill="none" stroke="#7c7c7c" stroke-width="0.8" rx="4.4" stroke-dasharray="5 1.5"/>
<rect x="516.7" y="108.7" width="25.8" height="8.8" fill="none" stroke="#7c7c7c" stroke-width="0.8" rx="4.4" stroke-dasharray="5 1.5"/>
<rect x="558.4" y="108.7" width="25.8" height="8.8" fill="none" stroke="#7c7c7c" stroke-width="0.8" rx="4.4" stroke-dasharray="5 1.5"/>
<rect x="600.1" y="108.7" width="25.8" height="8.8" fill="none" stroke="#7c7c7c" stroke-width="0.8" rx="4.4" stroke-dasharray="5 1.5"/>
<rect x="641.8" y="108.7" width="25.8" height="8.8" fill="none" stroke="#7c7c7c" stroke-width="0.8" rx="4.4" stroke-dasharray="5 1.5"/>
<rect x="683.5" y="108.7" width="25.8" height="8.8" fill="none" stroke="#7c7c7c" stroke-width="0.8" rx="4.4" stroke-dasharray="5 1.5"/>
<path d="M560.4 210 V68 H613.2 V210" fill="none" stroke="#333" stroke-width="0.9"/>
<line x1="563.3" y1="68" x2="563.3" y2="210" stroke="#3a3a3a" stroke-width="0.85"/>
<line x1="560.4" y1="144.6" x2="563" y2="144.6" stroke="#444" stroke-width="0.7"/>
<line x1="610.7" y1="144.6" x2="613.2" y2="144.6" stroke="#444" stroke-width="0.7"/>
<line x1="560.4" y1="152.5" x2="563" y2="152.5" stroke="#444" stroke-width="0.7"/>
<line x1="610.7" y1="152.5" x2="613.2" y2="152.5" stroke="#444" stroke-width="0.7"/>
<line x1="560.4" y1="164.2" x2="563" y2="164.2" stroke="#444" stroke-width="0.7"/>
<line x1="610.7" y1="164.2" x2="613.2" y2="164.2" stroke="#444" stroke-width="0.7"/>
<line x1="560.4" y1="178" x2="563" y2="178" stroke="#444" stroke-width="0.7"/>
<line x1="610.7" y1="178" x2="613.2" y2="178" stroke="#444" stroke-width="0.7"/>
<line x1="610.6" y1="68" x2="610.6" y2="210" stroke="#3a3a3a" stroke-width="0.85"/>
<clipPath id="cp1"><rect x="570" y="55" width="20" height="13"/></clipPath>
<g clip-path="url(#cp1)">
<circle cx="579.2" cy="66" r="5.4" fill="#eee" stroke="#555" stroke-width="1.3"/>
<path d="M578.35 62.6 H580.05 V65.15 H582.6 V66.85 H580.05 V69.4 H578.35 V66.85 H575.8 V65.15 H578.35 Z" fill="#fff" stroke="#777" stroke-width="0.6" stroke-linejoin="round"/>
</g>
<circle cx="572.2" cy="90.4" r="5.3" fill="#e4e4e4" stroke="#2a2a2a" stroke-width="1.6"/>
<path d="M571.35 87 H573.05 V89.55 H575.6 V91.25 H573.05 V93.8 H571.35 V91.25 H568.8 V89.55 H571.35 Z" fill="#fff" stroke="#444" stroke-width="0.7" stroke-linejoin="round"/>
<circle cx="601.7" cy="90.4" r="5.3" fill="#e4e4e4" stroke="#2a2a2a" stroke-width="1.6"/>
<path d="M600.85 87 H602.55 V89.55 H605.1 V91.25 H602.55 V93.8 H600.85 V91.25 H598.3 V89.55 H600.85 Z" fill="#fff" stroke="#444" stroke-width="0.7" stroke-linejoin="round"/>
<circle cx="587" cy="123.8" r="5.3" fill="#e4e4e4" stroke="#2a2a2a" stroke-width="1.6"/>
<path d="M586.15 120.4 H587.85 V122.95 H590.4 V124.65 H587.85 V127.2 H586.15 V124.65 H583.6 V122.95 H586.15 Z" fill="#fff" stroke="#444" stroke-width="0.7" stroke-linejoin="round"/>
<circle cx="617.7" cy="114.4" r="5.3" fill="#e8e8e8" stroke="#4a4a4a" stroke-width="1.3"/>
<path d="M616.85 111 H618.55 V113.55 H621.1 V115.25 H618.55 V117.8 H616.85 V115.25 H614.3 V113.55 H616.85 Z" fill="#fff" stroke="#666" stroke-width="0.7" stroke-linejoin="round"/>
<path d="M574.6 145 V137.1 H598.8 V145" fill="none" stroke="#2a2a2a" stroke-width="1"/>
<path d="M574.6 144.6 Q574.6 147.8 578 147.8 H595.4 Q598.8 147.8 598.8 144.6" fill="none" stroke="#555" stroke-width="0.9"/>
<path d="M565.6 226.7 V192.5 H572.2 V183.3 H565.6 V153.2 H572.5 V144.2 H574.6" fill="none" stroke="#2a2a2a" stroke-width="1.1"/>
<path d="M607.7 226.7 V192.5 H600.8 V183.3 H607.7 V153.2 H600.8 V144.2 H598.8" fill="none" stroke="#2a2a2a" stroke-width="1.1"/>
<line x1="565.6" y1="226.7" x2="607.7" y2="226.7" stroke="#2a2a2a" stroke-width="1"/>
<line x1="572.6" y1="144.6" x2="572.6" y2="153" stroke="#222" stroke-width="1.2"/>
<line x1="600.7" y1="144.6" x2="600.7" y2="153" stroke="#222" stroke-width="1.2"/>
<line x1="572.2" y1="183.6" x2="572.2" y2="192.3" stroke="#222" stroke-width="1.3"/>
<line x1="600.7" y1="183.6" x2="600.7" y2="192.3" stroke="#222" stroke-width="1.3"/>
<path d="M574.6 153 V147 M577 153 V148 Q577 146 579 146 M579.4 153 V149" fill="none" stroke="#9a9a9a" stroke-width="0.6"/>
<path d="M598.8 153 V147 M596.4 153 V148 Q596.4 146 594.4 146 M594 153 V149" fill="none" stroke="#9a9a9a" stroke-width="0.6"/>
<rect x="573.6" y="183.8" width="2.2" height="8.6" fill="#c4c4c4"/>
<path d="M573.6 183.8 V192.4 M578.2 185 V192.4 M595 185 V192.4 M599.4 183.8 V192.4" fill="none" stroke="#9a9a9a" stroke-width="0.6"/>
<path d="M572.6 155 V163.3 H578.3 V155" fill="none" stroke="#666" stroke-width="0.8" stroke-dasharray="2.6 1.1"/>
<path d="M595.4 155 V163.3 H601.2 V155" fill="none" stroke="#666" stroke-width="0.8" stroke-dasharray="2.6 1.1"/>
<path d="M572.2 193.5 V202.5 H584.3 M588 202.5 H601.2 V193.5 M577.6 194 V202.5 M583.2 194 V202.5 M590 194 V202.5 M595.6 194 V202.5" fill="none" stroke="#606060" stroke-width="0.8" stroke-dasharray="2.6 1.1"/>
<path d="M579.2 171.6 Q579.2 169.8 580.6 169.8 Q582 169.8 582.2 171.6 V181 H591.2 V171.6 Q591.4 169.8 592.6 169.8 Q594 169.8 594 171.6 V180.6 Q594 183.2 591.4 183.2 H581.8 Q579.2 183.2 579.2 180.6 Z" fill="none" stroke="#2a2a2a" stroke-width="0.8"/>
<path d="M582.4 172.6 L591 173.25 L582.4 173.9 L591 174.55 L582.4 175.2 L591 175.85 L582.4 176.5 L591 177.15 L582.4 177.8 L591 178.45 L582.4 179.1 L591 179.75 L582.4 180.4 L591 181.05 L582.4 181.7 L591 182.35 L582.4 183" fill="none" stroke="#1a1a1a" stroke-width="0.7"/>
<path d="M583 184 L590.4 184.6 L583 185.2 L590.4 185.8 L583 186.4 L590.4 187 L583 187.6 L590.4 188.2 L583 188.8 L590.4 189.4 L583 190 L590.4 190.6 L583 191.2" fill="none" stroke="#888" stroke-width="0.5"/>
<path d="M583 200 L585 192 M590.3 200 L588.3 192" fill="none" stroke="#9a9a9a" stroke-width="0.5"/>
<rect x="561" y="183.8" width="4" height="14.4" rx="1" fill="#8a8a8a" stroke="#555" stroke-width="0.6"/>
<rect x="568.3" y="183.8" width="3.3" height="14.5" fill="none" stroke="#333" stroke-width="0.7"/>
<rect x="574.3" y="215.9" width="24.9" height="7.8" fill="none" stroke="#222" stroke-width="1.1" rx="3.9"/>
<text class="c" x="583.8" y="252.7" font-size="11.7" fill="#222" text-anchor="middle" font-weight="500" letter-spacing="0.25">左视图</text>
<line x1="442.5" y1="162.6" x2="504.8" y2="162.6" stroke="#303030" stroke-width="1"/>
<line x1="442.5" y1="177.81" x2="504.8" y2="177.81" stroke="#303030" stroke-width="1"/>
<line x1="442.5" y1="193.02" x2="504.8" y2="193.02" stroke="#303030" stroke-width="1"/>
<line x1="442.5" y1="208.23" x2="504.8" y2="208.23" stroke="#303030" stroke-width="1"/>
<line x1="442.5" y1="223.44" x2="504.8" y2="223.44" stroke="#303030" stroke-width="1"/>
<line x1="442.5" y1="238.65" x2="504.8" y2="238.65" stroke="#303030" stroke-width="1"/>
<line x1="442.5" y1="253.86" x2="504.8" y2="253.86" stroke="#303030" stroke-width="1"/>
<line x1="442.5" y1="269.07" x2="504.8" y2="269.07" stroke="#303030" stroke-width="1"/>
<line x1="442.5" y1="284.28" x2="504.8" y2="284.28" stroke="#303030" stroke-width="1"/>
<line x1="442.5" y1="299.49" x2="504.8" y2="299.49" stroke="#303030" stroke-width="1"/>
<line x1="443.1" y1="162.6" x2="443.1" y2="299.49" stroke="#484848" stroke-width="1.3"/>
<line x1="504.2" y1="162.6" x2="504.2" y2="299.49" stroke="#484848" stroke-width="1.3"/>
<line x1="473.3" y1="177.81" x2="473.3" y2="299.49" stroke="#484848" stroke-width="1.3"/>
<text class="c" x="473.8" y="174.1" font-size="10.6" fill="#222" text-anchor="middle" font-weight="500">引脚功能</text>
<text class="c" x="458.4" y="189.31" font-size="10.6" fill="#222" text-anchor="middle" font-weight="500">引脚</text>
<text class="c" x="488.8" y="189.31" font-size="10.6" fill="#222" text-anchor="middle" font-weight="500">功能</text>
<text class="c" x="458.4" y="204.82" font-size="12.19" fill="#222" text-anchor="middle" textLength="4.4" lengthAdjust="spacingAndGlyphs">1</text>
<text class="c" x="458.4" y="220.03" font-size="12.19" fill="#222" text-anchor="middle" textLength="4.4" lengthAdjust="spacingAndGlyphs">2</text>
<text class="c" x="458.4" y="235.25" font-size="12.19" fill="#222" text-anchor="middle" textLength="4.4" lengthAdjust="spacingAndGlyphs">3</text>
<text class="c" x="458.4" y="250.45" font-size="12.19" fill="#222" text-anchor="middle" textLength="4.4" lengthAdjust="spacingAndGlyphs">4</text>
<text class="c" x="458.4" y="265.67" font-size="12.19" fill="#222" text-anchor="middle" textLength="4.4" lengthAdjust="spacingAndGlyphs">5</text>
<text class="c" x="458.4" y="280.87" font-size="12.19" fill="#222" text-anchor="middle" textLength="4.4" lengthAdjust="spacingAndGlyphs">6</text>
<text class="c" x="458.4" y="296.08" font-size="12.19" fill="#222" text-anchor="middle" textLength="4.4" lengthAdjust="spacingAndGlyphs">7</text>
<text class="c" x="487.8" y="204.82" font-size="12.19" fill="#222" text-anchor="middle" textLength="10.2" lengthAdjust="spacingAndGlyphs">+V</text>
<text class="c" x="487.8" y="220.03" font-size="12.19" fill="#222" text-anchor="middle" textLength="10.2" lengthAdjust="spacingAndGlyphs">+V</text>
<text class="c" x="487.8" y="235.25" font-size="12.19" fill="#222" text-anchor="middle" textLength="10.2" lengthAdjust="spacingAndGlyphs">-V</text>
<text class="c" x="487.8" y="250.45" font-size="12.19" fill="#222" text-anchor="middle" textLength="10.2" lengthAdjust="spacingAndGlyphs">-V</text>
<text class="c" x="487.8" y="265.67" font-size="12.19" fill="#222" text-anchor="middle" textLength="25.5" lengthAdjust="spacingAndGlyphs">AC(L)</text>
<text class="c" x="487.8" y="280.87" font-size="12.19" fill="#222" text-anchor="middle" textLength="25.5" lengthAdjust="spacingAndGlyphs">AC(N)</text>
<circle cx="487.8" cy="291.49" r="4.9" fill="none" stroke="#222" stroke-width="0.8"/>
<path d="M487.8 287.88 V291.69 M484.6 291.69 H491 M485.6 293.29 H490 M486.6 294.69 H489" fill="none" stroke="#222" stroke-width="0.7"/>
<text class="c" x="439.4" y="332.6" font-size="10.25" fill="#222" font-weight="500">接线端子安装说明</text>
<rect x="439.5" y="338.7" width="279.3" height="96.8" fill="none" stroke="#333" stroke-width="1.05"/>
<line x1="439.5" y1="371.3" x2="718.8" y2="371.3" stroke="#333" stroke-width="1.05"/>
<line x1="439.5" y1="403.4" x2="718.8" y2="403.4" stroke="#333" stroke-width="1.05"/>
<line x1="504.5" y1="338.7" x2="504.5" y2="435.5" stroke="#333" stroke-width="1.05"/>
<line x1="569.5" y1="338.7" x2="569.5" y2="435.5" stroke="#333" stroke-width="1.05"/>
<line x1="633.8" y1="338.7" x2="633.8" y2="435.5" stroke="#333" stroke-width="1.05"/>
<text class="c" x="472.8" y="357.6" font-size="9.17" fill="#222" text-anchor="middle" font-weight="600">端子排规格</text>
<text class="c" x="536.7" y="358.6" font-size="9.17" fill="#222" text-anchor="middle" font-weight="600">线材安装规格</text>
<text class="c" x="603.1" y="358.6" font-size="9.17" fill="#222" text-anchor="middle" font-weight="500">引脚</text>
<text class="c" x="636.9" y="358.6" font-size="9.17" fill="#222" font-weight="600">最大扭矩（磅英寸）</text>
<text class="c" x="454.2" y="390" font-size="10.55" fill="#222" textLength="13.75" lengthAdjust="spacingAndGlyphs">635</text>
<text class="c" x="467.95" y="390" font-size="9.17" fill="#222" font-weight="600">端子排</text>
<text class="c" x="454.2" y="422" font-size="10.55" fill="#222" textLength="13.75" lengthAdjust="spacingAndGlyphs">635</text>
<text class="c" x="467.95" y="422" font-size="9.17" fill="#222" font-weight="600">端子排</text>
<text class="c" x="519.2" y="389" font-size="10.5" fill="#222" textLength="37" lengthAdjust="spacingAndGlyphs">22-12AWG</text>
<text class="c" x="519.2" y="421.2" font-size="10.5" fill="#222" textLength="37" lengthAdjust="spacingAndGlyphs">22-12AWG</text>
<text class="c" x="594.5" y="389" font-size="10.5" fill="#222" textLength="13.2" lengthAdjust="spacingAndGlyphs">1-4</text>
<text class="c" x="594.5" y="421.2" font-size="10.5" fill="#222" textLength="13.2" lengthAdjust="spacingAndGlyphs">5-7</text>
<text class="c" x="652.7" y="390" font-size="10.5" fill="#222" textLength="50.3" lengthAdjust="spacingAndGlyphs">9Lb-in(Max)</text>
<text class="c" x="647.8" y="422.2" font-size="10.5" fill="#222" textLength="59.5" lengthAdjust="spacingAndGlyphs">6.5Lb-in(Max)</text>
<text class="c" x="440.8" y="455.4" font-size="11.75" fill="#222" font-weight="500">尺寸单位：</text>
<text class="c" x="499.85" y="455.4" font-size="13.16" fill="#222" textLength="11.15" lengthAdjust="spacingAndGlyphs">mm</text>
<text class="c" x="441.1" y="471.9" font-size="13.16" fill="#222" textLength="34.65" lengthAdjust="spacingAndGlyphs">DC OK:</text>
<text class="c" x="476.05" y="471.9" font-size="11.75" fill="#222" font-weight="500">输出状态指示灯</text>
<text class="c" x="441.1" y="487.4" font-size="13.16" fill="#222" textLength="22.9" lengthAdjust="spacingAndGlyphs">ADJ:</text>
<text class="c" x="464.3" y="487.4" font-size="11.75" fill="#222" font-weight="500">输出可调电阻</text>
<text class="c" x="440.8" y="502.7" font-size="11.75" fill="#222" font-weight="500">导轨类型：</text>
<text class="c" x="499.85" y="502.7" font-size="13.16" fill="#222" textLength="28.77" lengthAdjust="spacingAndGlyphs">TS35,</text>
<text class="c" x="528.92" y="502.7" font-size="11.75" fill="#222" font-weight="500">导轨需接地</text>
<text class="c" x="440.8" y="517.8" font-size="11.75" fill="#222" font-weight="500">未标注之公差：</text>
<text class="c" x="528.92" y="517.8" font-size="14.69" fill="#222" text-anchor="middle">±</text>
<text class="c" x="535.1" y="517.8" font-size="13.16" fill="#222" textLength="17.02" lengthAdjust="spacingAndGlyphs">1mm</text>
</svg>
</body>
</html>
